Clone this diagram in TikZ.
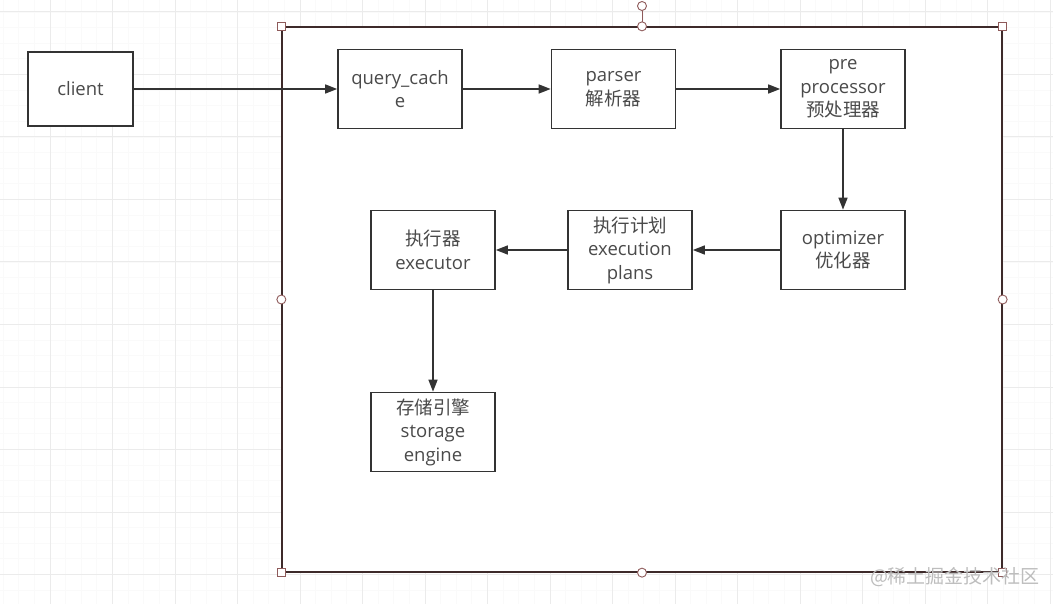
\documentclass[tikz,border=0pt]{standalone}
\usepackage{fontspec}
\usepackage{xcolor}
\usepackage{tikz}
\usetikzlibrary{arrows.meta,positioning}
\setmainfont{Open Sans}
\newfontfamily\cjk{Noto Sans CJK SC}
\definecolor{inkgray}{HTML}{333333}
\definecolor{textgray}{HTML}{4A4A4A}
\definecolor{selbrown}{HTML}{3D2A2A}
\definecolor{handlered}{HTML}{8E5A5A}
\definecolor{gridgray}{HTML}{EBEBEB}
\definecolor{minorgray}{HTML}{FAFAFA}
\definecolor{markgray}{HTML}{BDBDBD}

\begin{document}
\begin{tikzpicture}[
  x=1pt,y=-1pt,
  every node/.style={font=\fontsize{18.5}{23.5}\selectfont,text=textgray},
  blk/.style={rectangle,draw=inkgray,line width=1.7pt,fill=white,minimum width=124pt,minimum height=79pt,align=center,inner sep=0pt},
  arrow/.style={-{Triangle[length=12pt,width=9pt]},line width=1.6pt,color=inkgray},
  frame/.style={rectangle,draw=selbrown,line width=1.3pt,fill=white,minimum width=720pt,minimum height=545pt,inner sep=0pt},
  sqhandle/.style={rectangle,draw=handlered,fill=white,line width=0.9pt,minimum size=8pt,inner sep=0pt},
  cirhandle/.style={circle,draw=handlered,fill=white,line width=0.9pt,minimum size=9pt,inner sep=0pt},
  gridmajor/.style={color=gridgray,line width=1pt},
  gridminor/.style={color=minorgray,line width=0.8pt}
]
\useasboundingbox (0,0) rectangle (1053,604);
\fill[white] (0,0) rectangle (1053,604);

% background grid
\foreach \i in {0,...,67} \draw[gridminor] (3.125+15.625*\i,0) -- (3.125+15.625*\i,604);
\foreach \i in {0,...,38} \draw[gridminor] (0,12+15.625*\i) -- (1053,12+15.625*\i);
\foreach \i in {0,...,16} \draw[gridmajor] (50+62.5*\i,0) -- (50+62.5*\i,604);
\foreach \i in {0,...,9} \draw[gridmajor] (0,12+62.5*\i) -- (1053,12+62.5*\i);

% selected frame
\node[frame] (server) at (642,299.5) {};

\node[blk,minimum width=105pt,minimum height=74pt] (client) at (80.5,89) {client};
\node[blk] (cache)  at (400,89)   {query\_cach\\e};
\node[blk] (parser) at (613.5,89) {parser\\{\cjk 解析器}};
\node[blk] (prep)   at (843,89)   {pre\\processor\\{\cjk 预处理器}};
\node[blk] (optim)  at (843,250)  {optimizer\\{\cjk 优化器}};
\node[blk] (plans)  at (630,250)  {{\cjk 执行计划}\\execution\\plans};
\node[blk] (exec)   at (433,250)  {{\cjk 执行器}\\executor};
\node[blk] (store)  at (433,432)  {{\cjk 存储引擎}\\storage\\engine};

\draw[arrow] (client) -- (cache);
\draw[arrow] (cache) -- (parser);
\draw[arrow] (parser) -- (prep);
\draw[arrow] (prep) -- (optim);
\draw[arrow] (optim) -- (plans);
\draw[arrow] (plans) -- (exec);
\draw[arrow] (exec) -- (store);

% selection handles
\node[cirhandle] (rot) at (642,6) {};
\draw[handlered,line width=1pt] (rot) -- (server.north);
\node[sqhandle] (hnw) at (server.north west) {};
\node[sqhandle] (hne) at (server.north east) {};
\node[sqhandle] (hsw) at (server.south west) {};
\node[sqhandle] (hse) at (server.south east) {};
\node[cirhandle] (hn) at (server.north) {};
\node[cirhandle] (hs) at (server.south) {};
\node[cirhandle] (hw) at (server.west) {};
\node[cirhandle] (he) at (server.east) {};

\node[text=markgray,font=\cjk\fontsize{19}{22}\selectfont] (mark) at (955,577) {@稀土掘金技术社区};
\end{tikzpicture}
\end{document}
